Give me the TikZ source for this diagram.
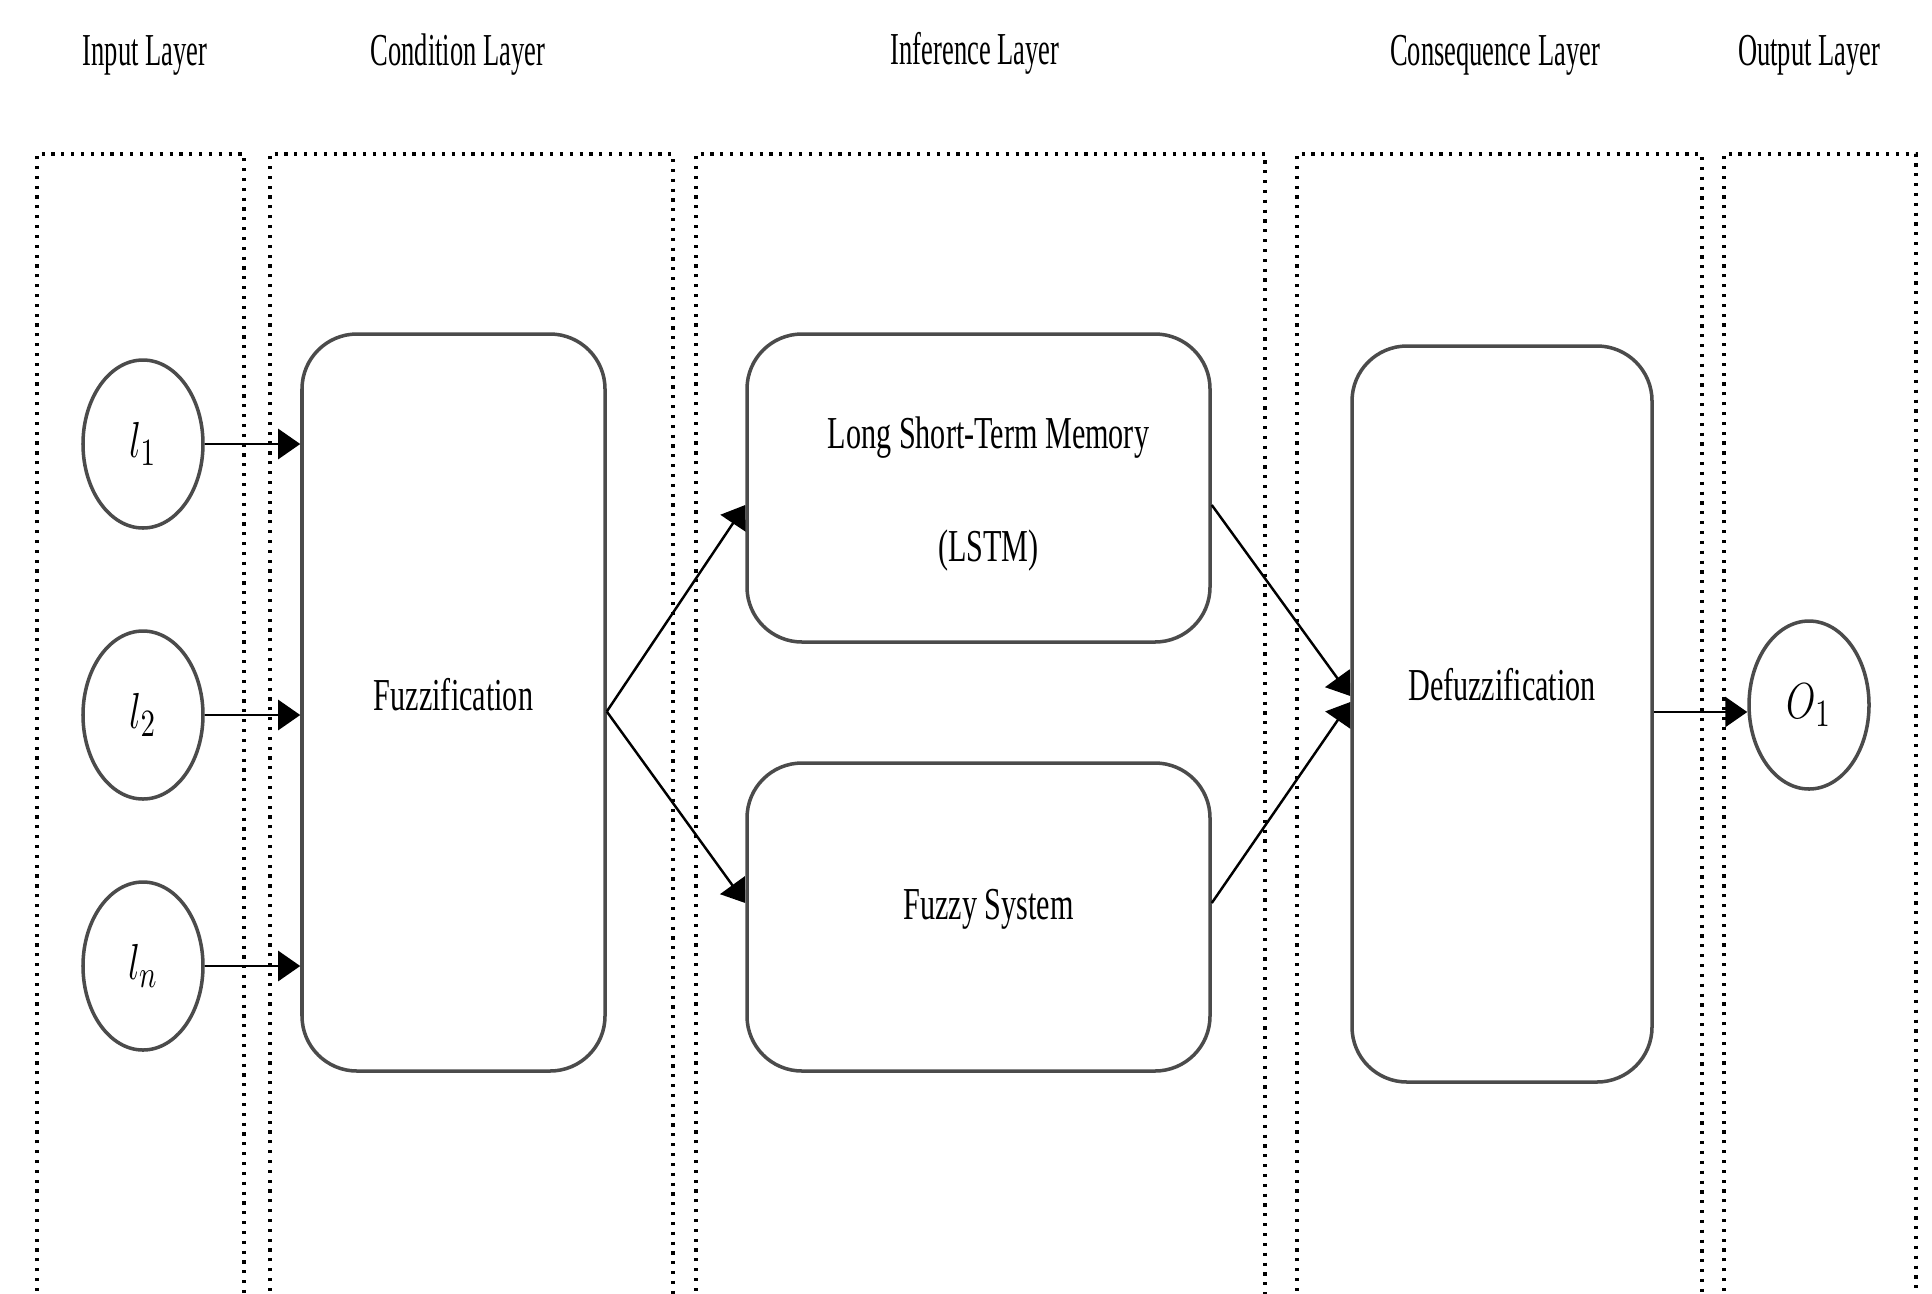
\documentclass[tikz,border=0pt]{standalone}
\usepackage{fontspec}
\setmainfont{Liberation Serif}
\usepackage{graphicx}
\usetikzlibrary{arrows.meta,shapes.geometric}

\definecolor{edgegray}{RGB}{75,75,75}
\newcommand{\boxtxt}[1]{\scalebox{0.66}[1]{#1}}
\newcommand{\headtxt}[1]{\scalebox{0.58}[1]{#1}}
\newcommand{\vartxt}[1]{\scalebox{0.75}[1]{#1}}

\tikzset{
    layer/.style={draw, line width=0.9pt, dash pattern=on 0.9pt off 1.9pt},
    head/.style={font=\fontsize{13}{15}\selectfont},
    unit/.style={draw=edgegray, line width=1pt, rounded corners=0.55cm, align=center,
        font=\fontsize{13}{16}\selectfont},
    var/.style={draw=edgegray, line width=1pt, ellipse, inner sep=0pt,
        minimum width=1.2cm, minimum height=1.68cm, font=\fontsize{15}{17}\selectfont},
    link/.style={-{Triangle[length=2.2mm,width=3mm]}, line width=0.7pt}
}

\begin{document}
\begin{tikzpicture}
    \clip (0,0) rectangle (19.32,-12.93);

    % layer frames
    \draw[layer] (0.37,-13.5) -- (0.37,-1.54) -- (2.44,-1.54) -- (2.44,-13.5);
    \draw[layer] (2.70,-13.5) -- (2.70,-1.54) -- (6.73,-1.54) -- (6.73,-13.5);
    \draw[layer] (6.96,-13.5) -- (6.96,-1.54) -- (12.65,-1.54) -- (12.65,-13.5);
    \draw[layer] (12.97,-13.5) -- (12.97,-1.54) -- (17.02,-1.54) -- (17.02,-13.5);
    \draw[layer] (17.24,-13.5) -- (17.24,-1.54) -- (19.16,-1.54) -- (19.16,-13.5);

    % layer titles
    \node[head] (TI) at (1.45,-0.55) {\headtxt{Input Layer}};
    \node[head] (TC) at (4.58,-0.55) {\headtxt{Condition Layer}};
    \node[head] (TF) at (9.75,-0.53) {\headtxt{Inference Layer}};
    \node[head] (TQ) at (14.95,-0.55) {\headtxt{Consequence Layer}};
    \node[head] (TO) at (18.09,-0.55) {\headtxt{Output Layer}};

    % inputs
    \node[var] (I1) at (1.43,-4.44) {\vartxt{$l_1$}};
    \node[var] (I2) at (1.43,-7.15) {\vartxt{$l_2$}};
    \node[var] (IN) at (1.43,-9.66) {\vartxt{$l_n$}};

    % processing units
    \node[unit, minimum width=3.03cm, minimum height=7.37cm] (F) at (4.535,-7.025) {\raisebox{1.65mm}{\boxtxt{Fuzzification}}};
    \node[unit, minimum width=4.63cm, minimum height=3.08cm] (L) at (9.785,-4.88) {\hspace*{2mm}\rule{0pt}{4.35mm}\boxtxt{Long Short-Term Memory}\\[16pt]\hspace*{2mm}\boxtxt{(LSTM)}};
    \node[unit, minimum width=4.63cm, minimum height=3.08cm] (S) at (9.785,-9.17) {\hspace*{2mm}\raisebox{2.55mm}{\boxtxt{Fuzzy System}}};
    \node[unit, minimum width=3.00cm, minimum height=7.36cm] (D) at (15.02,-7.14) {\raisebox{6mm}{\boxtxt{Defuzzification}}};

    % output
    \node[var] (O) at (18.09,-7.05) {\vartxt{$O_1$}};

    % connections
    \draw[link] (I1) -- (I1 -| F.west);
    \draw[link] (I2) -- (I2 -| F.west);
    \draw[link] (IN) -- (IN -| F.west);
    \draw[link] ([yshift=-0.9mm]F.east) -- ([yshift=-1.7mm]L.west);
    \draw[link] ([yshift=-0.9mm]F.east) -- ([yshift=1.4mm]S.west);
    \draw[link] ([yshift=-1.7mm]L.east) -- ([yshift=1.8mm]D.west);
    \draw[link] ([yshift=1.4mm]S.east) -- ([yshift=1.2mm]D.west);
    \draw[link] ([yshift=-0.7mm]O.west -| D.east) -- ([yshift=-0.7mm]O.west);
\end{tikzpicture}
\end{document}
